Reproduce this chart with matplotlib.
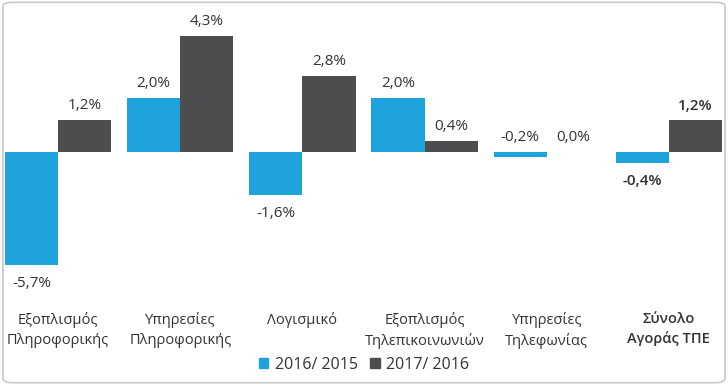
import matplotlib.pyplot as plt
import numpy as np
from matplotlib.patches import FancyBboxPatch, Patch

categories = ['Εξοπλισμός\nΠληροφορικής', 'Υπηρεσίες\nΠληροφορικής', 'Λογισμικό',
              'Εξοπλισμός\nΤηλεπικοινωνιών', 'Υπηρεσίες\nΤηλεφωνίας', 'Σύνολο\nΑγοράς ΤΠΕ']
v2016 = [-5.7, 2.0, -1.6, 2.0, -0.2, -0.4]
v2017 = [1.2, 4.3, 2.8, 0.4, 0.0, 1.2]
series_names = ['2016/ 2015', '2017/ 2016']

blue = '#1fa3dc'
grey = '#4d4d4f'
txt = '#333333'

plt.rcParams['font.family'] = ['Open Sans', 'DejaVu Sans']

fig = plt.figure(figsize=(7.28, 3.85), dpi=100)
border = FancyBboxPatch((0.004, 0.006), 0.992, 0.988, boxstyle='round,pad=0,rounding_size=0.012',
                        transform=fig.transFigure, fc='white', ec='#c8c8c8', lw=1.2, zorder=-10)
fig.patches.append(border)
ax = fig.add_axes([5/728, 1-265/385, 717/728, 255/385])
ax.set_facecolor('none')

x = np.arange(len(categories))
w = 0.435
b1 = ax.bar(x - w/2, v2016, w, color=blue)
b2 = ax.bar(x + w/2, v2017, w, color=grey)
ax.set_xlim(-0.435, 5.435)
ylo, yhi = -4.185, 5.26
ax.set_ylim(ylo, yhi)

def lab(xp, v, bold):
    s = ('%.1f%%' % v).replace('.', ',')
    fw = 600 if bold else 'normal'
    if v >= -0.2:
        yy = max(v, 0)
        ax.annotate(s, (xp, yy), xytext=(0, 5), textcoords='offset points',
                    ha='center', va='bottom', fontsize=11, color=txt, fontweight=fw)
    else:
        yy = max(v, ylo)
        ax.annotate(s, (xp, yy), xytext=(0, -8), textcoords='offset points',
                    ha='center', va='top', fontsize=11, color=txt, fontweight=fw, annotation_clip=False)

for i in range(len(categories)):
    last = i == len(categories) - 1
    lab(x[i] - w/2, v2016[i], last)
    lab(x[i] + w/2, v2017[i], last)

ax.set_xticks(x)
ax.set_xticklabels(categories, fontsize=10.5, color=txt, linespacing=1.4)
ax.get_xticklabels()[-1].set_fontweight(600)
ax.tick_params(axis='x', length=0, pad=34)
ax.set_yticks([])
for sp in ax.spines.values():
    sp.set_visible(False)

handles = [Patch(color=blue), Patch(color=grey)]
fig.legend(handles, series_names, loc='center', bbox_to_anchor=(0.5, 1-365/385), ncol=2, frameon=False,
           fontsize=11.5, handlelength=0.6, handleheight=0.6, handletextpad=0.4, columnspacing=0.8,
           labelcolor=txt)

fig.savefig('out.png', dpi=100)
